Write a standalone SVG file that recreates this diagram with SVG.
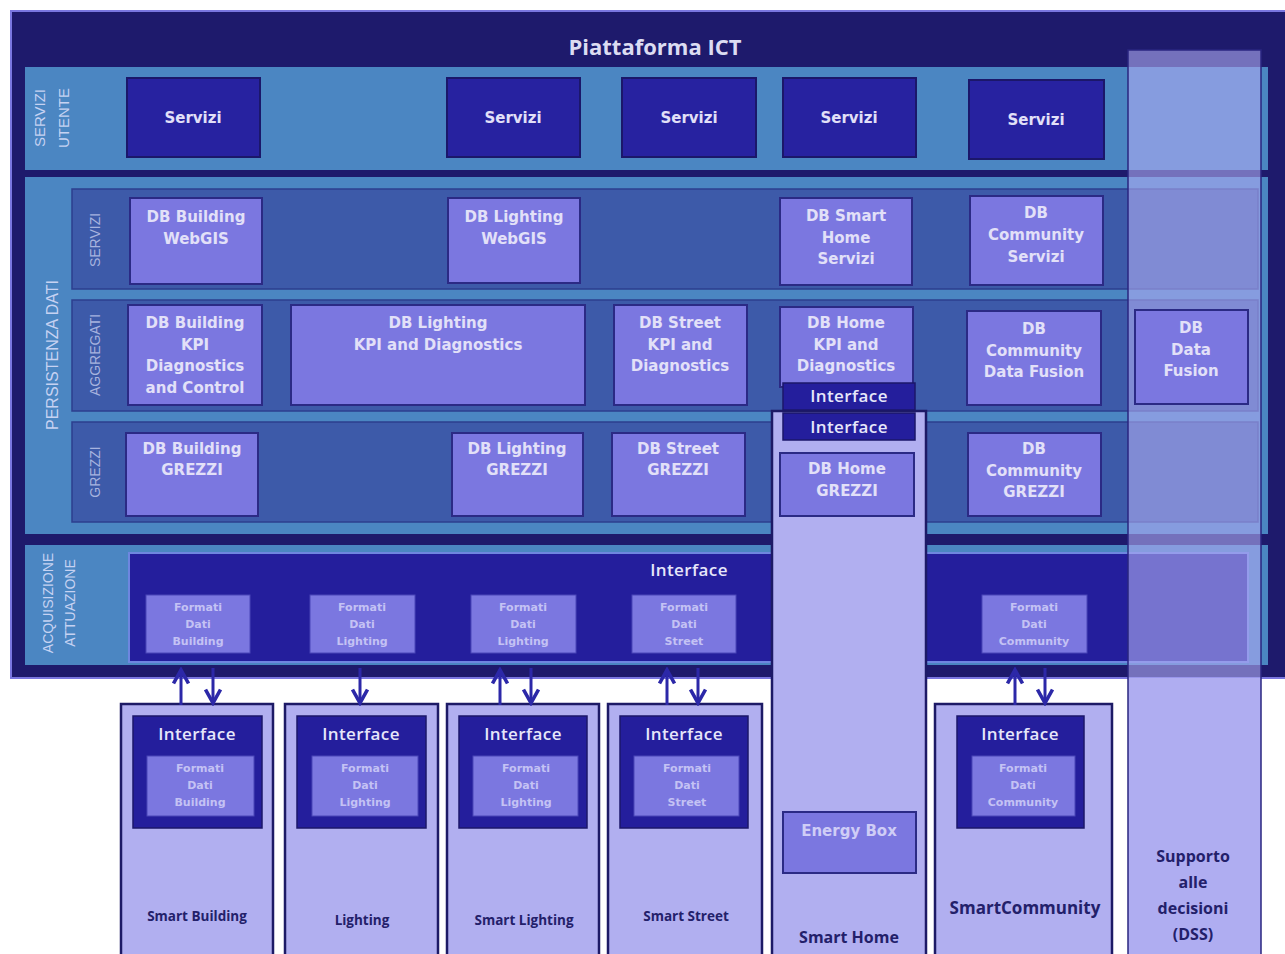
<svg xmlns="http://www.w3.org/2000/svg" width="1285" height="954" viewBox="0 0 1285 954">
<defs>
<marker id="ah" viewBox="0 0 12 12" refX="10" refY="6" markerWidth="6" markerHeight="6" orient="auto" markerUnits="strokeWidth">
<path d="M1,1 L10,6 L1,11" fill="none" stroke="#2c28a8" stroke-width="2.4"/>
</marker>
<style>
.band{fill:#4b86c2}
.sub{fill:#3d5aa9;stroke:#2c3f8f;stroke-width:1.5}
.srv{fill:#2722a0;stroke:#1b176a;stroke-width:2}
.db{fill:#7b77e0;stroke:#2b2a85;stroke-width:2}
.ifc{fill:#241e9c;stroke:#1b176a;stroke-width:1.5}
.fmt{fill:#7b77e0;stroke:#4a46b8;stroke-width:1}
.lav{fill:#b1aff0;stroke:#1d1a66;stroke-width:2.5}
.t{font-family:"DejaVu Sans",sans-serif;font-weight:bold;font-size:15px;fill:#e2e0f8;text-anchor:middle}
.f{font-family:"DejaVu Sans",sans-serif;font-weight:bold;font-size:11px;fill:#c4c2f4;text-anchor:middle}
.i{font-family:"Open Sans",sans-serif;font-weight:600;font-size:17px;fill:#e6e6fa;text-anchor:middle;letter-spacing:0.4px}
.b{font-family:"Open Sans",sans-serif;font-weight:700;font-size:13.5px;fill:#23206a;text-anchor:middle}
.big{font-size:16px}
.rl{font-family:"Liberation Sans",sans-serif;font-size:15px;fill:#c6d2f2;text-anchor:middle}
.rs{font-family:"Liberation Sans",sans-serif;font-size:14px;fill:#a7b3df;text-anchor:middle}
.ar{stroke:#2c28a8;stroke-width:3;fill:none;marker-end:url(#ah)}
</style>
</defs>
<rect width="1285" height="954" fill="#ffffff"/>

<g id="platform">
<rect x="11" y="11" width="1280" height="667" fill="#1e1a6c" stroke="#7a76e0" stroke-width="2"/>
<text x="655" y="55" font-family="Open Sans, sans-serif" font-weight="700" font-size="22" fill="#dcdcf2" text-anchor="middle">Piattaforma ICT</text>
</g>

<g id="band-servizi-utente">
<rect class="band" x="25" y="67" width="1243" height="103"/>
<text class="rl" transform="translate(45,118) rotate(-90)">SERVIZI</text>
<text class="rl" transform="translate(69,118) rotate(-90)">UTENTE</text>
</g>

<g id="band-persistenza">
<rect class="band" x="25" y="177" width="1243" height="357"/>
<text class="rl" style="font-size:16px" transform="translate(58,355) rotate(-90)">PERSISTENZA DATI</text>
<rect class="sub" x="72" y="189" width="1186" height="100"/>
<rect class="sub" x="72" y="300" width="1186" height="111"/>
<rect class="sub" x="72" y="422" width="1186" height="100"/>
<text class="rs" transform="translate(100,240) rotate(-90)">SERVIZI</text>
<text class="rs" transform="translate(100,355) rotate(-90)">AGGREGATI</text>
<text class="rs" transform="translate(100,472) rotate(-90)">GREZZI</text>
</g>

<g id="band-acquisizione">
<rect class="band" x="25" y="545" width="1243" height="120"/>
<text class="rl" style="font-size:14px" transform="translate(53,603) rotate(-90)">ACQUISIZIONE</text>
<text class="rl" style="font-size:14px" transform="translate(75,603) rotate(-90)">ATTUAZIONE</text>
</g>

<g id="acq-interface">
<rect x="129" y="553" width="1119" height="109" fill="#241e9c" stroke="#6e86e0" stroke-width="2"/>
<text class="i" x="689" y="576">Interface</text>
</g>

<g id="servizi-utente">
<rect class="srv" x="127" y="78" width="133" height="79"/><text class="t" x="193" y="123">Servizi</text>
<rect class="srv" x="447" y="78" width="133" height="79"/><text class="t" x="513" y="123">Servizi</text>
<rect class="srv" x="622" y="78" width="134" height="79"/><text class="t" x="689" y="123">Servizi</text>
<rect class="srv" x="783" y="78" width="133" height="79"/><text class="t" x="849" y="123">Servizi</text>
<rect class="srv" x="969" y="80" width="135" height="79"/><text class="t" x="1036" y="125">Servizi</text>
</g>

<g id="db-servizi">
<rect class="db" x="130" y="198" width="132" height="86"/><text class="t" x="196" y="222">DB Building</text><text class="t" x="196" y="244">WebGIS</text>
<rect class="db" x="448" y="198" width="132" height="85"/><text class="t" x="514" y="222">DB Lighting</text><text class="t" x="514" y="244">WebGIS</text>
<rect class="db" x="780" y="198" width="132" height="87"/><text class="t" x="846" y="221">DB Smart</text><text class="t" x="846" y="243">Home</text><text class="t" x="846" y="264">Servizi</text>
<rect class="db" x="970" y="196" width="133" height="89"/><text class="t" x="1036" y="218">DB</text><text class="t" x="1036" y="240">Community</text><text class="t" x="1036" y="262">Servizi</text>
</g>

<g id="db-aggregati">
<rect class="db" x="128" y="305" width="134" height="100"/><text class="t" x="195" y="328">DB Building</text><text class="t" x="195" y="350">KPI</text><text class="t" x="195" y="371">Diagnostics</text><text class="t" x="195" y="393">and Control</text>
<rect class="db" x="291" y="305" width="294" height="100"/><text class="t" x="438" y="328">DB Lighting</text><text class="t" x="438" y="350">KPI and Diagnostics</text>
<rect class="db" x="614" y="305" width="133" height="100"/><text class="t" x="680" y="328">DB Street</text><text class="t" x="680" y="350">KPI and</text><text class="t" x="680" y="371">Diagnostics</text>
<rect class="db" x="780" y="307" width="133" height="80"/><text class="t" x="846" y="328">DB Home</text><text class="t" x="846" y="350">KPI and</text><text class="t" x="846" y="371">Diagnostics</text>
<rect class="db" x="967" y="311" width="134" height="94"/><text class="t" x="1034" y="334">DB</text><text class="t" x="1034" y="356">Community</text><text class="t" x="1034" y="377">Data Fusion</text>
</g>

<g id="db-grezzi">
<rect class="db" x="126" y="433" width="132" height="83"/><text class="t" x="192" y="454">DB Building</text><text class="t" x="192" y="475">GREZZI</text>
<rect class="db" x="452" y="433" width="131" height="83"/><text class="t" x="517" y="454">DB Lighting</text><text class="t" x="517" y="475">GREZZI</text>
<rect class="db" x="612" y="433" width="133" height="83"/><text class="t" x="678" y="454">DB Street</text><text class="t" x="678" y="475">GREZZI</text>
<rect class="db" x="968" y="433" width="133" height="83"/><text class="t" x="1034" y="454">DB</text><text class="t" x="1034" y="476">Community</text><text class="t" x="1034" y="497">GREZZI</text>
</g>

<g id="acq-formati">
<rect class="fmt" x="146" y="595" width="104" height="58"/><text class="f" x="198" y="611">Formati</text><text class="f" x="198" y="628">Dati</text><text class="f" x="198" y="645">Building</text>
<rect class="fmt" x="310" y="595" width="105" height="58"/><text class="f" x="362" y="611">Formati</text><text class="f" x="362" y="628">Dati</text><text class="f" x="362" y="645">Lighting</text>
<rect class="fmt" x="471" y="595" width="105" height="58"/><text class="f" x="523" y="611">Formati</text><text class="f" x="523" y="628">Dati</text><text class="f" x="523" y="645">Lighting</text>
<rect class="fmt" x="632" y="595" width="104" height="58"/><text class="f" x="684" y="611">Formati</text><text class="f" x="684" y="628">Dati</text><text class="f" x="684" y="645">Street</text>
<rect class="fmt" x="982" y="595" width="105" height="58"/><text class="f" x="1034" y="611">Formati</text><text class="f" x="1034" y="628">Dati</text><text class="f" x="1034" y="645">Community</text>
</g>

<g id="smart-building">
<rect class="lav" x="121" y="704" width="152" height="260"/>
<rect class="ifc" x="133" y="716" width="129" height="112"/><text class="i" x="197" y="740">Interface</text>
<rect class="fmt" x="147" y="756" width="107" height="60"/><text class="f" x="200" y="772">Formati</text><text class="f" x="200" y="789">Dati</text><text class="f" x="200" y="806">Building</text>
<text class="b" x="197" y="921">Smart Building</text>
</g>

<g id="lighting">
<rect class="lav" x="285" y="704" width="153" height="260"/>
<rect class="ifc" x="297" y="716" width="129" height="112"/><text class="i" x="361" y="740">Interface</text>
<rect class="fmt" x="312" y="756" width="106" height="60"/><text class="f" x="365" y="772">Formati</text><text class="f" x="365" y="789">Dati</text><text class="f" x="365" y="806">Lighting</text>
<text class="b" x="362" y="925">Lighting</text>
</g>

<g id="smart-lighting">
<rect class="lav" x="447" y="704" width="152" height="260"/>
<rect class="ifc" x="459" y="716" width="128" height="112"/><text class="i" x="523" y="740">Interface</text>
<rect class="fmt" x="473" y="756" width="105" height="60"/><text class="f" x="526" y="772">Formati</text><text class="f" x="526" y="789">Dati</text><text class="f" x="526" y="806">Lighting</text>
<text class="b" x="524" y="925">Smart Lighting</text>
</g>

<g id="smart-street">
<rect class="lav" x="608" y="704" width="154" height="260"/>
<rect class="ifc" x="620" y="716" width="128" height="112"/><text class="i" x="684" y="740">Interface</text>
<rect class="fmt" x="634" y="756" width="105" height="60"/><text class="f" x="687" y="772">Formati</text><text class="f" x="687" y="789">Dati</text><text class="f" x="687" y="806">Street</text>
<text class="b" x="686" y="921">Smart Street</text>
</g>

<g id="smart-community">
<rect class="lav" x="935" y="704" width="177" height="260"/>
<rect class="ifc" x="957" y="716" width="127" height="112"/><text class="i" x="1020" y="740">Interface</text>
<rect class="fmt" x="972" y="756" width="103" height="60"/><text class="f" x="1023" y="772">Formati</text><text class="f" x="1023" y="789">Dati</text><text class="f" x="1023" y="806">Community</text>
<text class="b" x="1025" y="914" style="font-size:17px">SmartCommunity</text>
</g>

<g id="smart-home">
<rect class="lav" x="772" y="411" width="154" height="553"/>
<rect class="ifc" x="783" y="383" width="132" height="27"/><text class="i" x="849" y="402">Interface</text>
<rect class="ifc" x="783" y="413" width="132" height="27"/><text class="i" x="849" y="433">Interface</text>
<rect class="db" x="780" y="453" width="134" height="63"/><text class="t" x="847" y="474">DB Home</text><text class="t" x="847" y="496">GREZZI</text>
<rect class="db" x="783" y="812" width="133" height="61"/><text class="t" x="849" y="836" style="fill:#cfcdf6">Energy Box</text>
<text class="b big" x="849" y="943">Smart Home</text>
</g>

<g id="dss">
<rect x="1128" y="678" width="133" height="290" fill="#b1aff0"/>
<rect x="1128" y="50" width="133" height="918" fill="#aeacf2" fill-opacity="0.6" stroke="#2a2680" stroke-width="1.5"/>
<rect class="db" x="1135" y="310" width="113" height="94"/><text class="t" x="1191" y="333">DB</text><text class="t" x="1191" y="355">Data</text><text class="t" x="1191" y="376">Fusion</text>
<text class="b big" x="1193" y="862">Supporto</text>
<text class="b big" x="1193" y="888">alle</text>
<text class="b big" x="1193" y="914">decisioni</text>
<text class="b big" x="1193" y="940">(DSS)</text>
</g>

<g id="connectors">
<line class="ar" x1="181" y1="705" x2="181" y2="670"/>
<line class="ar" x1="213" y1="668" x2="213" y2="703"/>
<line class="ar" x1="360" y1="668" x2="360" y2="703"/>
<line class="ar" x1="500" y1="705" x2="500" y2="670"/>
<line class="ar" x1="531" y1="668" x2="531" y2="703"/>
<line class="ar" x1="667" y1="705" x2="667" y2="670"/>
<line class="ar" x1="698" y1="668" x2="698" y2="703"/>
<line class="ar" x1="1015" y1="705" x2="1015" y2="670"/>
<line class="ar" x1="1045" y1="668" x2="1045" y2="703"/>
</g>
</svg>
